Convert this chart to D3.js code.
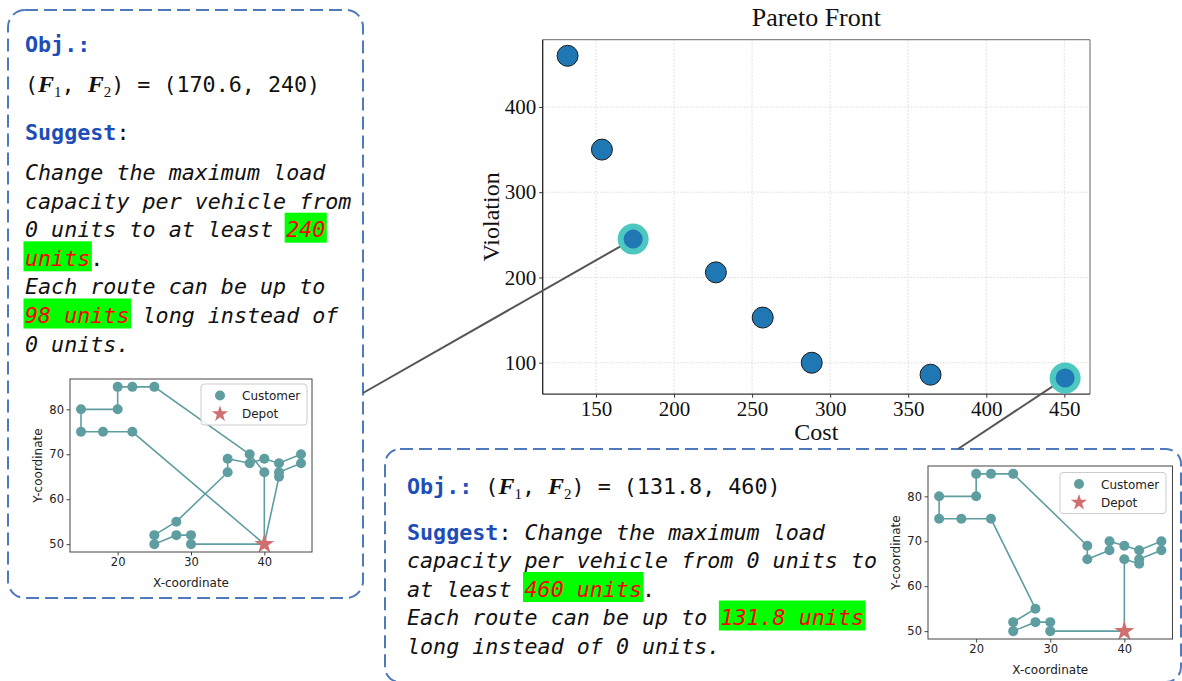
<!DOCTYPE html>
<html><head><meta charset="utf-8">
<script src="https://cdn.jsdelivr.net/npm/d3@7"></script>
<style>body{margin:0;background:#fff}svg{display:block}text{white-space:pre}</style>
</head><body>
<svg id="c" width="1182" height="681"></svg>
<script>
// ---------------- data ----------------
const paretoCost = [131.8, 153.8, 173.8, 226.8, 256.8, 288.2, 364.3, 450.5];
const paretoViolation = [460, 350, 245, 206, 153, 100, 86, 82];
const highlightedIdx = [2, 7];
const paretoXTicks = [150, 200, 250, 300, 350, 400, 450];
const paretoYTicks = [100, 200, 300, 400];

const customerX = [45,45,42,42,42,40,40,38,38,35,35,25,22,22,20,20,18,15,15,30,30,28,28,25,25];
const customerY = [68,70,66,68,65,69,66,68,70,66,69,85,75,85,80,85,75,75,80,50,52,52,55,50,52];
const depotXY = [40, 50];
const routeXTicks = [20, 30, 40];
const routeYTicks = [50, 60, 70, 80];
// routes: 0 = depot, k = customer k
const routesLeft = [
  [0,7,9,12,14,16,15,19,18,17,13,0],
  [0,5,3,1,2,4,6,8,11,10,23,25,24,22,21,20,0]
];
const routesRight = [
  [0,7,5,3,1,2,4,6,9,8,10,11,12,14,16,15,19,18,17,13,23,25,24,22,21,20,0]
];

const leftLines = [
  [["key","Obj.:"]],
  [["m","("],["F","F"],["sub","1"],["m",", "],["F","F"],["sub","2"],["m",") = (170.6, 240)"]],
  [["key","Suggest"],["m",":"]],
  [["i","Change the maximum load"]],
  [["i","capacity per vehicle from"]],
  [["i","0 units to at least "],["hl","240"]],
  [["hl","units"],["m","."]],
  [["i","Each route can be up to"]],
  [["hl","98 units"],["i"," long instead of"]],
  [["i","0 units."]]
];
const bottomLines = [
  [["key","Obj.:"],["m"," ("],["F","F"],["sub","1"],["m",", "],["F","F"],["sub","2"],["m",") = (131.8, 460)"]],
  [["key","Suggest"],["m",": "],["i","Change the maximum load"]],
  [["i","capacity per vehicle from 0 units to"]],
  [["i","at least "],["hl","460 units"],["m","."]],
  [["i","Each route can be up to "],["hl","131.8 units"]],
  [["i","long instead of 0 units."]]
];

// ---------------- drawing ----------------
const svg = d3.select("#c");
const MONO = "'DejaVu Sans Mono', monospace";
const SERIF = "'Liberation Serif', 'Times New Roman', serif";
const SANS = "'DejaVu Sans', sans-serif";
const boxColor = "#5079bd";

// dashed boxes
svg.append("rect").attr("x",8).attr("y",10).attr("width",355).attr("height",588).attr("rx",17)
  .attr("fill","none").attr("stroke",boxColor).attr("stroke-width",2).attr("stroke-dasharray","13,6");
svg.append("rect").attr("x",385).attr("y",449).attr("width",796).attr("height",233).attr("rx",15)
  .attr("fill","none").attr("stroke",boxColor).attr("stroke-width",2).attr("stroke-dasharray","13,6");

// text blocks
function drawLines(lines, x0, baselines){
  lines.forEach((segs, li) => {
    const t = svg.append("text").attr("x", x0).attr("y", baselines[li])
      .attr("font-family", MONO).attr("font-size", 21.7).attr("fill", "#111");
    let shift = 0;
    const hls = [];
    segs.forEach(([style, str]) => {
      const ts = t.append("tspan").text(str);
      let dy = 0;
      if (style === "sub") { dy = 5 - shift; shift = 5; } else { dy = -shift; shift = 0; }
      if (dy) ts.attr("dy", dy);
      if (style === "key") ts.attr("font-weight","bold").attr("fill","#1d4eb8");
      if (style === "i") ts.attr("font-style","italic");
      if (style === "F") ts.attr("font-family", SERIF).attr("font-weight","bold").attr("font-style","italic").attr("font-size",24);
      if (style === "sub") ts.attr("font-family", SERIF).attr("font-size",15);
      if (style === "hl") { ts.attr("font-style","italic").attr("fill","#ff0000"); hls.push(ts); }
    });
    hls.forEach(ts => {
      const n = ts.node();
      const sx = n.getStartPositionOfChar(0).x;
      const w = n.getComputedTextLength();
      svg.insert("rect", "text").attr("x", sx - 1.5).attr("y", baselines[li] - 24.5)
        .attr("width", w + 3).attr("height", 30).attr("fill", "#00ff00");
    });
  });
}
drawLines(leftLines, 25, [52, 92, 140, 180, 208.6, 237.2, 265.8, 294.4, 323, 351.6]);
drawLines(bottomLines, 407, [494, 539.5, 568, 596.5, 625, 653.5]);

// ---------- Pareto chart ----------
const cExt = d3.extent(paretoCost), vExt = d3.extent(paretoViolation);
const cPad = (cExt[1]-cExt[0])*0.05, vPad = (vExt[1]-vExt[0])*0.05;
const px = d3.scaleLinear().domain([cExt[0]-cPad, cExt[1]+cPad]).range([542.7, 1090]);
const py = d3.scaleLinear().domain([vExt[0]-vPad, vExt[1]+vPad]).range([394.2, 39.7]);
const [pL, pR] = px.range(), [pB, pT] = py.range();

const grid = svg.append("g").attr("stroke","#d4d4d4").attr("stroke-width",0.8).attr("stroke-dasharray","1.6,1.6");
grid.selectAll(".gx").data(paretoXTicks).join("line").attr("x1",d=>px(d)).attr("x2",d=>px(d)).attr("y1",pT).attr("y2",pB);
grid.selectAll(".gy").data(paretoYTicks).join("line").attr("y1",d=>py(d)).attr("y2",d=>py(d)).attr("x1",pL).attr("x2",pR);

const gx = svg.append("g").attr("transform",`translate(0,${pB})`)
  .call(d3.axisBottom(px).tickValues(paretoXTicks).tickFormat(d3.format("d")).tickSize(3.5).tickPadding(3));
const gy = svg.append("g").attr("transform",`translate(${pL},0)`)
  .call(d3.axisLeft(py).tickValues(paretoYTicks).tickFormat(d3.format("d")).tickSize(3.5).tickPadding(3));
[gx, gy].forEach(g => {
  g.select(".domain").remove();
  g.selectAll("line").attr("stroke","#333");
  g.selectAll("text").attr("font-family",SERIF).attr("font-size",21).attr("fill","#111");
});
// spines
svg.append("line").attr("x1",pL).attr("x2",pR).attr("y1",pT).attr("y2",pT).attr("stroke","#888").attr("stroke-width",1.3);
svg.append("line").attr("x1",pR).attr("x2",pR).attr("y1",pT).attr("y2",pB).attr("stroke","#888").attr("stroke-width",1.3);
svg.append("line").attr("x1",pL).attr("x2",pR).attr("y1",pB).attr("y2",pB).attr("stroke","#333").attr("stroke-width",1.3);
svg.append("line").attr("x1",pL).attr("x2",pL).attr("y1",pT).attr("y2",pB).attr("stroke","#222").attr("stroke-width",1.3);

svg.append("text").attr("x",(pL+pR)/2).attr("y",26).attr("text-anchor","middle")
  .attr("font-family",SERIF).attr("font-size",26).attr("fill","#111").text("Pareto Front");
svg.append("text").attr("x",(pL+pR)/2).attr("y",440).attr("text-anchor","middle")
  .attr("font-family",SERIF).attr("font-size",24).attr("fill","#111").text("Cost");
svg.append("text").attr("transform",`translate(499,${(pT+pB)/2}) rotate(-90)`).attr("text-anchor","middle")
  .attr("font-family",SERIF).attr("font-size",24).attr("fill","#111").text("Violation");

// connector lines
const h0 = highlightedIdx[0], h1 = highlightedIdx[1];
svg.append("line").attr("x1",363).attr("y1",393).attr("x2",px(paretoCost[h0])).attr("y2",py(paretoViolation[h0]))
  .attr("stroke","#555").attr("stroke-width",2);
svg.append("line").attr("x1",958).attr("y1",449).attr("x2",px(paretoCost[h1])).attr("y2",py(paretoViolation[h1]))
  .attr("stroke","#555").attr("stroke-width",2);

// points
const pts = paretoCost.map((c,i)=>({c, v: paretoViolation[i], i}));
svg.append("g").selectAll("circle").data(pts).join("circle")
  .attr("cx",d=>px(d.c)).attr("cy",d=>py(d.v)).attr("r",10.5)
  .attr("fill","#1f77b4").attr("stroke","#1a1a1a").attr("stroke-width",1);
svg.append("g").selectAll("circle").data(pts.filter(d=>highlightedIdx.includes(d.i))).join("circle")
  .attr("cx",d=>px(d.c)).attr("cy",d=>py(d.v)).attr("r",12.5)
  .attr("fill","none").attr("stroke","#4cc8c0").attr("stroke-width",6);

// ---------- route charts ----------
const TEAL = "#5f9ea0", STAR = "#cf6f6f";
function starPath(r){
  const p = d3.range(10).map(i => {
    const a = -Math.PI/2 + i*Math.PI/5, rr = i%2 ? r*0.382 : r;
    return [rr*Math.cos(a), rr*Math.sin(a)];
  });
  return d3.line()(p) + "Z";
}
function routeChart(box, routes, legendPos){
  const [x0,x1,yT,yB] = box;
  const allX = customerX.concat([depotXY[0]]), allY = customerY.concat([depotXY[1]]);
  const ex = d3.extent(allX), ey = d3.extent(allY);
  const mx = (ex[1]-ex[0])*0.05, my = (ey[1]-ey[0])*0.05;
  const sx = d3.scaleLinear().domain([ex[0]-mx, ex[1]+mx]).range([x0,x1]);
  const sy = d3.scaleLinear().domain([ey[0]-my, ey[1]+my]).range([yB,yT]);
  const g = svg.append("g");
  const coord = k => k===0 ? depotXY : [customerX[k-1], customerY[k-1]];
  const line = d3.line().x(d=>sx(d[0])).y(d=>sy(d[1]));
  routes.forEach(r => g.append("path").attr("d", line(r.map(coord)))
    .attr("fill","none").attr("stroke",TEAL).attr("stroke-width",1.6));
  g.selectAll("circle.c").data(customerX.map((x,i)=>[x,customerY[i]])).join("circle")
    .attr("cx",d=>sx(d[0])).attr("cy",d=>sy(d[1])).attr("r",5).attr("fill",TEAL);
  g.append("path").attr("d",starPath(10.5)).attr("transform",`translate(${sx(depotXY[0])},${sy(depotXY[1])})`).attr("fill",STAR);
  // frame
  g.append("rect").attr("x",x0).attr("y",yT).attr("width",x1-x0).attr("height",yB-yT)
    .attr("fill","none").attr("stroke","#444").attr("stroke-width",1);
  const ax = g.append("g").attr("transform",`translate(0,${yB})`)
    .call(d3.axisBottom(sx).tickValues(routeXTicks).tickSize(3.5).tickPadding(2.5));
  const ay = g.append("g").attr("transform",`translate(${x0},0)`)
    .call(d3.axisLeft(sy).tickValues(routeYTicks).tickSize(3.5).tickPadding(2.5));
  [ax, ay].forEach(a => {
    a.select(".domain").remove();
    a.selectAll("line").attr("stroke","#444");
    a.selectAll("text").attr("font-family",SANS).attr("font-size",11.5).attr("fill","#222");
  });
  g.append("text").attr("x",(x0+x1)/2).attr("y",yB+35).attr("text-anchor","middle")
    .attr("font-family",SANS).attr("font-size",12).attr("fill","#222").text("X-coordinate");
  g.append("text").attr("transform",`translate(${x0-28},${(yT+yB)/2}) rotate(-90)`).attr("text-anchor","middle")
    .attr("font-family",SANS).attr("font-size",12).attr("fill","#222").text("Y-coordinate");
  // legend
  const [lx, ly] = legendPos;
  g.append("rect").attr("x",lx).attr("y",ly).attr("width",106).attr("height",41).attr("rx",3)
    .attr("fill","#fff").attr("fill-opacity",0.85).attr("stroke","#ccc").attr("stroke-width",1);
  g.append("circle").attr("cx",lx+19).attr("cy",ly+11.5).attr("r",5).attr("fill",TEAL);
  g.append("path").attr("d",starPath(8.5)).attr("transform",`translate(${lx+19},${ly+30})`).attr("fill",STAR);
  g.append("text").attr("x",lx+41).attr("y",ly+16).attr("font-family",SANS).attr("font-size",12).attr("fill","#222").text("Customer");
  g.append("text").attr("x",lx+41).attr("y",ly+34).attr("font-family",SANS).attr("font-size",12).attr("fill","#222").text("Depot");
}
routeChart([70, 312, 379, 552], routesLeft, [201, 384]);
routeChart([928, 1172.5, 466, 639], routesRight, [1060, 472.5]);
</script>
</body></html>
